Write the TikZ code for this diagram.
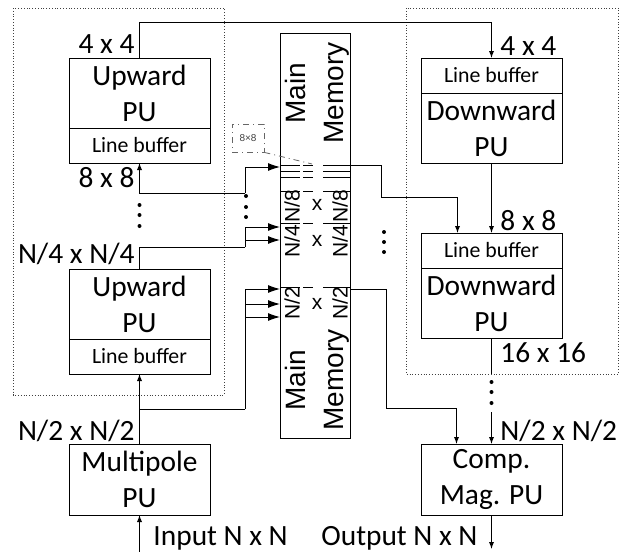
\documentclass[tikz,border=0pt]{standalone}
\usepackage{fontspec}
\setmainfont{Carlito}
\newfontfamily\memfont{Liberation Sans}
\usetikzlibrary{positioning,arrows.meta}
\newcommand{\lblsize}{\fontsize{14.7pt}{18pt}\selectfont}
\newcommand{\bufsize}{\fontsize{10.9pt}{13pt}\selectfont}
\newcommand{\memsize}{\memfont\fontsize{14pt}{19pt}\selectfont}
\newcommand{\rowsize}{\memfont\fontsize{10.5pt}{11pt}\selectfont}

\begin{document}
\begin{tikzpicture}[x=0.5pt, y=-0.5pt, line width=0.5pt,
  block/.style={draw, minimum width=70.5pt, inner sep=1pt, outer sep=0pt, align=center, font=\lblsize},
  buf/.style={block, font=\bufsize},
  lbl/.style={inner sep=0pt, font=\lblsize},
  rowlbl/.style={inner sep=0pt, rotate=90, font=\rowsize},
  group/.style={draw=black!75, densely dotted, line width=0.4pt},
  sarr/.style={-{Latex[length=3.5pt,width=2.6pt]}},
  barr/.style={-{Latex[length=6pt,width=4pt]}},
  cut/.style={dash pattern=on 10pt off 1.5pt on 5pt off 5pt on 13.5pt off 0pt},
  dot/.style={circle, fill, inner sep=0pt, minimum size=2pt}]
\useasboundingbox (0,0) rectangle (623,552);

% Groups
\draw[group] (13,8) rectangle (224,395);
\draw[group] (406,8) rectangle (618,374);

% Upward side
\node (upu1) [block, minimum height=35pt] at (139.5,93) {Upward\\PU};
\node (upu1buf) [buf, minimum height=17.5pt, below=0pt of upu1] {Line buffer};
\node (upu2) [block, minimum height=35pt] at (139.5,304) {Upward\\PU};
\node (upu2buf) [buf, minimum height=17.5pt, below=0pt of upu2] {Line buffer};
\node (mp) [block, minimum height=35.5pt] at (139.5,479.5) {Multipole\\PU};

% Downward side
\node (dpu1buf) [buf, minimum height=17.5pt] at (491.5,75.5) {Line buffer};
\node (dpu1) [block, minimum height=35pt, below=0pt of dpu1buf] {Downward\\PU};
\node (dpu2buf) [buf, minimum height=17.5pt] at (491.5,250.5) {Line buffer};
\node (dpu2) [block, minimum height=35pt, below=0pt of dpu2buf] {Downward\\PU};
\node (comp) [block, minimum height=35.5pt] at (491.5,479.5) {Comp.\\Mag. PU};

% Main memory
\node (mem) [draw, minimum width=35pt, minimum height=202.5pt, outer sep=0pt] at (315,235.5) {};
\node (memtop) [rotate=90, align=center, inner sep=0pt, font=\memsize] at (317,93) {Main\\Memory};
\node (membot) [rotate=90, align=center, inner sep=0pt, font=\memsize] at (317,380) {Main\\Memory};
\foreach \y in {165,171,177,191,223,287}
  \draw[cut] (mem.west |- 0,\y) -- (mem.east |- 0,\y);
\node (n8l) [rowlbl] at (292,206) {N/8};
\node (n8x) [inner sep=0pt, font=\rowsize] at (317,205) {x};
\node (n8r) [rowlbl] at (340,206) {N/8};
\node (n4l) [rowlbl] at (292,241) {N/4};
\node (n4x) [inner sep=0pt, font=\rowsize] at (317,241) {x};
\node (n4r) [rowlbl] at (340,241) {N/4};
\node (n2l) [rowlbl] at (292,303) {N/2};
\node (n2x) [inner sep=0pt, font=\rowsize] at (317,304) {x};
\node (n2r) [rowlbl] at (340,303) {N/2};

% 8x8 block callout
\node (blk) [draw=black!60, dash dot, line width=0.4pt, minimum width=16pt, minimum height=14pt, inner sep=0pt,
  font=\memfont\fontsize{5pt}{6pt}\selectfont, text=black!75] at (248,138) {8×8};
\coordinate (blkpt) at (312,164);
\draw[black!60, dash dot, line width=0.4pt] (blk.south east) -- (blkpt);

% ports and junctions
\coordinate (in8) at (mem.west |- 0,167);
\coordinate (in4a) at (mem.west |- 0,227);
\coordinate (in4b) at (mem.west |- 0,240);
\coordinate (in2a) at (mem.west |- 0,289);
\coordinate (in2b) at (mem.west |- 0,304);
\coordinate (in2c) at (mem.west |- 0,317);
\coordinate (out8) at (mem.east |- 0,165);
\coordinate (out2) at (mem.east |- 0,289);
\coordinate (j8) at (245,193);
\coordinate (j4) at (245,247);
\coordinate (j2) at (245,409);
\coordinate (k8) at (381,197);
\coordinate (k2) at (386,408);
\coordinate (r2) at (491.5,412);
\coordinate (inp) at (139.5,552);
\coordinate (outp) at (491.5,549);

% Upward connections
\draw[sarr] (upu1.north) -- ++(0,-36) -| (dpu1buf.north);
\draw[sarr] (j8) -| (upu1buf.south);
\draw[barr] (j8) |- (in8);
\draw (upu2.north) |- (j4);
\draw[barr] (j4) |- (in4a);
\draw[barr] (j4) |- (in4b);
\draw[sarr] (mp.north) -- (upu2buf.south);
\draw (mp.north |- j2) -- (j2);
\draw[barr] (j2) |- (in2a);
\draw[barr] (j2) |- (in2b);
\draw[barr] (j2) |- (in2c);
\draw[sarr] (inp) -- (mp.south);

% Downward connections
\draw[sarr] (out8) -| (k8) -| ([xshift=-17pt]dpu2buf.north);
\draw[sarr] (dpu1.south) -- (dpu2buf.north);
\draw (dpu2.south) -- ++(0,36);
\draw[sarr] (out2) -| (k2) -| ([xshift=-17.5pt]comp.north);
\draw[sarr] (r2) -- (comp.north);
\draw[sarr] (comp.south) -- (outp);

% Dots
\foreach \y [count=\i] in {205,215,226} \node (ldot\i) [dot] at (139.5,\y) {};
\foreach \y [count=\i] in {196,207,217} \node (mdot\i) [dot] at (246,\y) {};
\foreach \y [count=\i] in {232,242,252} \node (rdot\i) [dot] at (384,\y) {};
\foreach \y [count=\i] in {382,392,403} \node (bdot\i) [dot] at (491.5,\y) {};

% Sizes
\node (l44) [lbl, anchor=base east] at (135,53) {4 x 4};
\node (l88) [lbl, anchor=base east] at (135,187) {8 x 8};
\node (lN4) [lbl, anchor=base east] at (135,263) {N/4 x N/4};
\node (lN2) [lbl, anchor=base east] at (135,440) {N/2 x N/2};
\node (r44) [lbl, anchor=base west] at (500,55) {4 x 4};
\node (r88) [lbl, anchor=base west] at (500,230) {8 x 8};
\node (r1616) [lbl, anchor=base west] at (500,362) {16 x 16};
\node (rN2) [lbl, anchor=base west] at (500,440) {N/2 x N/2};
\node (inlbl) [lbl, anchor=base west] at (153,545) {Input N x N};
\node (outlbl) [lbl, anchor=base east] at (478,545) {Output N x N};
\end{tikzpicture}
\end{document}
